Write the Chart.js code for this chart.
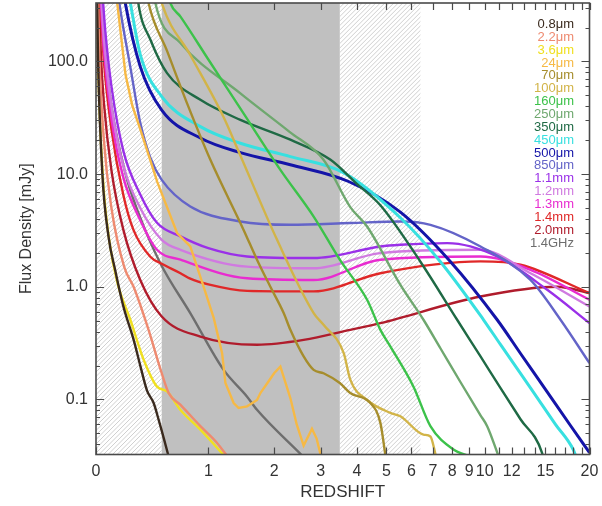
<!DOCTYPE html>
<html><head><meta charset="utf-8">
<script src="https://cdn.jsdelivr.net/npm/chart.js@4.4.1/dist/chart.umd.min.js"></script>
<style>html,body{margin:0;padding:0;background:#fff;}</style>
</head><body>
<canvas id="c" width="602" height="506"></canvas>
<script>
// ---------- axis ticks ----------
const zTickValues = [0,1,2,3,4,5,6,7,8,9,10,12,15,20];
const zTickLabels = ['0','1','2','3','4','5','6','7','8','9','10','12','15','20'];
const zMinorTicks = [11,13,14,16,17,18,19];
const yTickValues = [0.1,1,10,100];
const yTickLabels = ['0.1','1.0','10.0','100.0'];
const grayBand = [0.5, 3.5];
const hatchBands = [[0,0.5],[3.5,6.4]];

// ---------- series (redshift z, flux density mJy) ----------
const seriesNames = ['0.8\u03bcm','2.2\u03bcm','3.6\u03bcm','24\u03bcm','70\u03bcm','100\u03bcm','160\u03bcm','250\u03bcm','350\u03bcm','450\u03bcm','500\u03bcm','850\u03bcm','1.1mm','1.2mm','1.3mm','1.4mm','2.0mm','1.4GHz'];
const seriesColors = ['#3a2a1e','#ee8a70','#f0e020','#f6b945','#a68d2c','#d2b448','#3cc24a','#6fa86f','#1f6a45','#38e0e0','#1414a8','#6464c8','#9a30e8','#d07ae0','#e82cd0','#e02828','#b01c2c','#6e6e6e'];

const z08 = [0.006,0.013,0.04,0.08,0.126,0.184,0.261,0.314,0.37,0.427,0.472,0.52,0.57];
const s08 = [400,100,10,2.8,1.4,0.67,0.34,0.2,0.12,0.093,0.066,0.045,0.03];
const z22 = [0.012,0.02,0.05,0.1,0.19,0.261,0.383,0.5,0.566,0.682,0.904,1.1,1.27];
const s22 = [400,120,20,5,1.5,1.0,0.415,0.171,0.114,0.09,0.058,0.042,0.03];
const z36 = [0.006,0.013,0.042,0.085,0.14,0.236,0.342,0.457,0.55,0.682,0.904,1.24];
const s36 = [400,100,10,2.6,1.1,0.51,0.225,0.13,0.118,0.081,0.054,0.03];
const z24 = [0.13,0.14,0.2,0.25,0.323,0.46,0.649,0.789,0.943,1.067,1.177,1.222,1.338,1.411,1.54,1.701,1.757,1.901,2.0,2.119,2.317,2.45,2.6,2.79,2.9,3.02];
const s24 = [420,330,76,41,23.3,8.5,3.0,2.28,1.0,0.53,0.258,0.14,0.093,0.084,0.087,0.099,0.114,0.145,0.171,0.196,0.103,0.06,0.039,0.055,0.045,0.03];
const z70 = [0.37,0.383,0.55,0.753,1.025,1.486,1.70,1.932,2.183,2.317,2.6,2.83,3.07,3.5,3.8,4.435,4.78,4.97];
const s70 = [400,330,124,42.7,13.4,3.2,1.74,1.0,0.585,0.415,0.241,0.183,0.171,0.14,0.114,0.093,0.062,0.031];
const z100 = [0.48,0.5,0.789,1.198,1.39,2.056,2.83,3.07,3.61,3.8,4.325,5.15,5.54,6.54,6.87,7.15];
const s100 = [400,330,114,32,17,2.61,0.585,0.46,0.258,0.15,0.099,0.076,0.071,0.0488,0.047,0.031];
const z160 = [0.56,0.582,0.684,1.0,1.5,2.119,2.83,3.5,4.325,4.78,5.15,6.09,6.87,8.07,9.1];
const s160 = [400,330,250,104,33.6,10.9,4.2,1.74,0.767,0.415,0.295,0.13,0.058,0.036,0.031];
const z250 = [0.43,0.442,0.684,1.437,2.3,3.07,3.8,4.325,5.54,6.54,7.37,8.47,9.72,10.17,11.0];
const s250 = [400,330,146,52,23.7,13.4,5.1,3.43,1.04,0.51,0.285,0.143,0.0724,0.058,0.031];
const z350 = [0.29,0.298,0.4,0.55,0.904,1.437,2.317,3.25,4.0,4.78,6.4,8.28,9.72,11.12,12.72,14.68,14.8];
const s350 = [400,330,155,78.8,45.6,30.3,20.2,13.4,8.2,5.3,1.67,0.51,0.241,0.127,0.0668,0.0335,0.03];
const z450 = [0.22,0.236,0.314,0.5,0.904,1.437,2.317,3.6,5.54,7.37,9.92,11.12,13.59,16.02,17.99,18.4];
const s450 = [420,330,115,48.8,26.4,18.8,14.3,10.3,4.1,1.67,0.51,0.308,0.127,0.0602,0.036,0.03];
const z500 = [0.185,0.198,0.314,0.5,0.904,1.437,2.317,3.75,5.54,7.91,10.88,12.72,15,17.67,20];
const s500 = [420,330,90,37,20.9,15.5,12.1,8.6,4.6,1.67,0.51,0.256,0.123,0.0588,0.0337];
const z850 = [0.145,0.155,0.236,0.314,0.398,0.5,0.789,1.437,2.317,3.8,5.54,6.87,9.72,13.59,16.56,20];
const s850 = [420,330,89,28.5,14,8.9,5.17,3.8,3.55,3.68,3.8,3.55,2.28,1.15,0.51,0.21];
const z1100 = [0.045,0.06,0.1,0.184,0.314,0.457,0.684,1.0,1.54,2.83,4.78,5.54,7.73,10.88,15.18,20];
const s1100 = [330,180,60,16,6.6,3.7,2.8,2.2,1.86,1.8,2.28,2.36,2.44,1.86,0.94,0.476];
const z1200 = [0.035,0.05,0.1,0.184,0.314,0.5,0.684,1.54,2.83,4.78,9.72,13.59,20];
const s1200 = [330,160,40,11.8,5.0,2.61,2.13,1.51,1.46,1.99,2.13,1.32,0.668];
const z1300 = [0.03,0.05,0.1,0.184,0.314,0.457,0.684,1.54,2.83,4.78,9.72,13.59,20];
const s1300 = [345,125,31,9.3,3.9,2.13,1.74,1.19,1.15,1.74,1.86,1.415,0.767];
const z1400 = [0.028,0.05,0.1,0.184,0.26,0.398,0.5,0.684,0.789,1.0,1.54,2.83,4.78,9.72,12.72,20];
const s1400 = [330,100,25,6.5,3.2,1.85,1.6,1.32,1.18,1.05,0.92,0.91,1.32,1.68,1.57,0.88];
const z2000 = [0.018,0.03,0.05,0.1,0.184,0.314,0.5,0.904,1.70,2.6,3.8,4.78,9.72,16.2,20];
const s2000 = [400,120,43,10.8,3.2,1.15,0.545,0.362,0.306,0.338,0.415,0.476,0.82,1.0,0.88];
const zRadio = [0.035,0.05,0.1,0.2,0.3,0.487,0.789,1.198,1.54,1.70,2.56];
const sRadio = [330,150,40,10,4.5,1.62,0.584,0.183,0.106,0.081,0.032];

const seriesZ = [z08,z22,z36,z24,z70,z100,z160,z250,z350,z450,z500,z850,z1100,z1200,z1300,z1400,z2000,zRadio];
const seriesS = [s08,s22,s36,s24,s70,s100,s160,s250,s350,s450,s500,s850,s1100,s1200,s1300,s1400,s2000,sRadio];
const noisy = [false,false,false,true,false,false,false,false,false,false,false,false,false,false,false,false,false,false];

const lz = z => Math.log10(1 + z);
const FONT = "'Liberation Sans', Arial, Helvetica, sans-serif";

const datasets = seriesZ.map((zs, i) => ({
  label: seriesNames[i],
  data: zs.map((z, k) => ({x: lz(z), y: seriesS[i][k]})),
  borderColor: seriesColors[i],
  backgroundColor: seriesColors[i],
  borderWidth: (i === 10 || i === 9) ? 3 : 2.4,
  pointRadius: 0,
  fill: false,
  tension: noisy[i] ? 0 : 0.4,
  cubicInterpolationMode: noisy[i] ? 'default' : 'monotone'
}));

const bgPlugin = {
  id: 'bg',
  beforeDatasetsDraw(chart) {
    const {ctx, chartArea: a, scales: {x}} = chart;
    ctx.save();
    ctx.beginPath(); ctx.rect(a.left, a.top, a.width, a.height); ctx.clip();
    hatchBands.forEach(([z0, z1]) => {
      const x0 = x.getPixelForValue(lz(z0)), x1 = x.getPixelForValue(lz(z1));
      ctx.save();
      ctx.beginPath(); ctx.rect(x0, a.top, x1 - x0, a.height); ctx.clip();
      ctx.strokeStyle = '#c4c4c4'; ctx.lineWidth = 0.8;
      ctx.beginPath();
      for (let s = -a.height; s < (x1 - x0) + a.height; s += 4.5) {
        ctx.moveTo(x0 + s, a.bottom);
        ctx.lineTo(x0 + s + a.height, a.top);
      }
      ctx.stroke();
      ctx.restore();
    });
    const g0 = x.getPixelForValue(lz(grayBand[0])), g1 = x.getPixelForValue(lz(grayBand[1]));
    ctx.fillStyle = '#c0c0c0';
    ctx.fillRect(g0, a.top, g1 - g0, a.height);
    ctx.restore();
  },
  afterDatasetsDraw(chart) {
    const {ctx, chartArea: a, scales: {x, y}} = chart;
    ctx.save();
    ctx.strokeStyle = '#4a4a4a';
    ctx.lineWidth = 1.2;
    ctx.beginPath();
    zTickValues.concat(zMinorTicks).forEach(z => {
      const px = Math.round(x.getPixelForValue(lz(z))) + 0.5;
      ctx.moveTo(px, a.bottom); ctx.lineTo(px, a.bottom - 7);
      ctx.moveTo(px, a.top); ctx.lineTo(px, a.top + 7);
    });
    for (let d = -2; d <= 2; d++) {
      for (let m = 1; m <= 9; m++) {
        const v = m * Math.pow(10, d);
        if (v < y.min || v > y.max) continue;
        const py = Math.round(y.getPixelForValue(v)) + 0.5;
        const len = m === 1 ? 8 : 4;
        ctx.moveTo(a.left, py); ctx.lineTo(a.left + len, py);
        ctx.moveTo(a.right, py); ctx.lineTo(a.right - len, py);
      }
    }
    ctx.stroke();
    ctx.lineWidth = 1.6;
    ctx.strokeRect(a.left, a.top, a.width, a.height);
    ctx.font = '13px ' + FONT;
    ctx.textAlign = 'right';
    ctx.textBaseline = 'middle';
    seriesNames.forEach((n, i) => {
      ctx.fillStyle = seriesColors[i];
      ctx.fillText(n, 574, 24.5 + i * 12.85);
    });
    ctx.restore();
  }
};

new Chart(document.getElementById('c'), {
  type: 'line',
  data: {datasets},
  plugins: [bgPlugin],
  options: {
    responsive: false,
    animation: false,
    devicePixelRatio: 1,
    layout: {padding: {left: 0, right: 12.5, top: 3, bottom: 0}},
    plugins: {legend: {display: false}, tooltip: {enabled: false}},
    scales: {
      x: {
        type: 'linear',
        min: 0, max: lz(20),
        grid: {display: false, drawTicks: false},
        border: {display: false},
        afterBuildTicks: s => { s.ticks = zTickValues.map(z => ({value: lz(z)})); },
        afterFit: s => { s.height = 51.5; s.paddingLeft = 0; s.paddingRight = 0; s.paddingTop = 0; s.paddingBottom = 0; },
        ticks: {
          autoSkip: false, maxRotation: 0, minRotation: 0, padding: 7,
          color: '#333', font: {family: FONT, size: 16},
          callback: (v, i) => zTickLabels[i]
        },
        title: {display: true, text: 'REDSHIFT', color: '#333', font: {family: FONT, size: 17}, padding: {top: 0, bottom: 3}}
      },
      y: {
        type: 'logarithmic',
        min: 0.0325, max: 330,
        grid: {display: false, drawTicks: false},
        border: {display: false},
        afterBuildTicks: s => { s.ticks = yTickValues.map(v => ({value: v})); },
        afterFit: s => { s.width = 96; s.paddingTop = 0; s.paddingBottom = 0; s.paddingLeft = 0; s.paddingRight = 0; },
        ticks: {
          autoSkip: false, padding: 8,
          color: '#333', font: {family: FONT, size: 16},
          callback: (v, i) => yTickLabels[i]
        },
        title: {display: true, text: 'Flux Density [mJy]', color: '#333', font: {family: FONT, size: 16}, padding: {top: 17, bottom: 0}}
      }
    }
  }
});
</script>
</body></html>
